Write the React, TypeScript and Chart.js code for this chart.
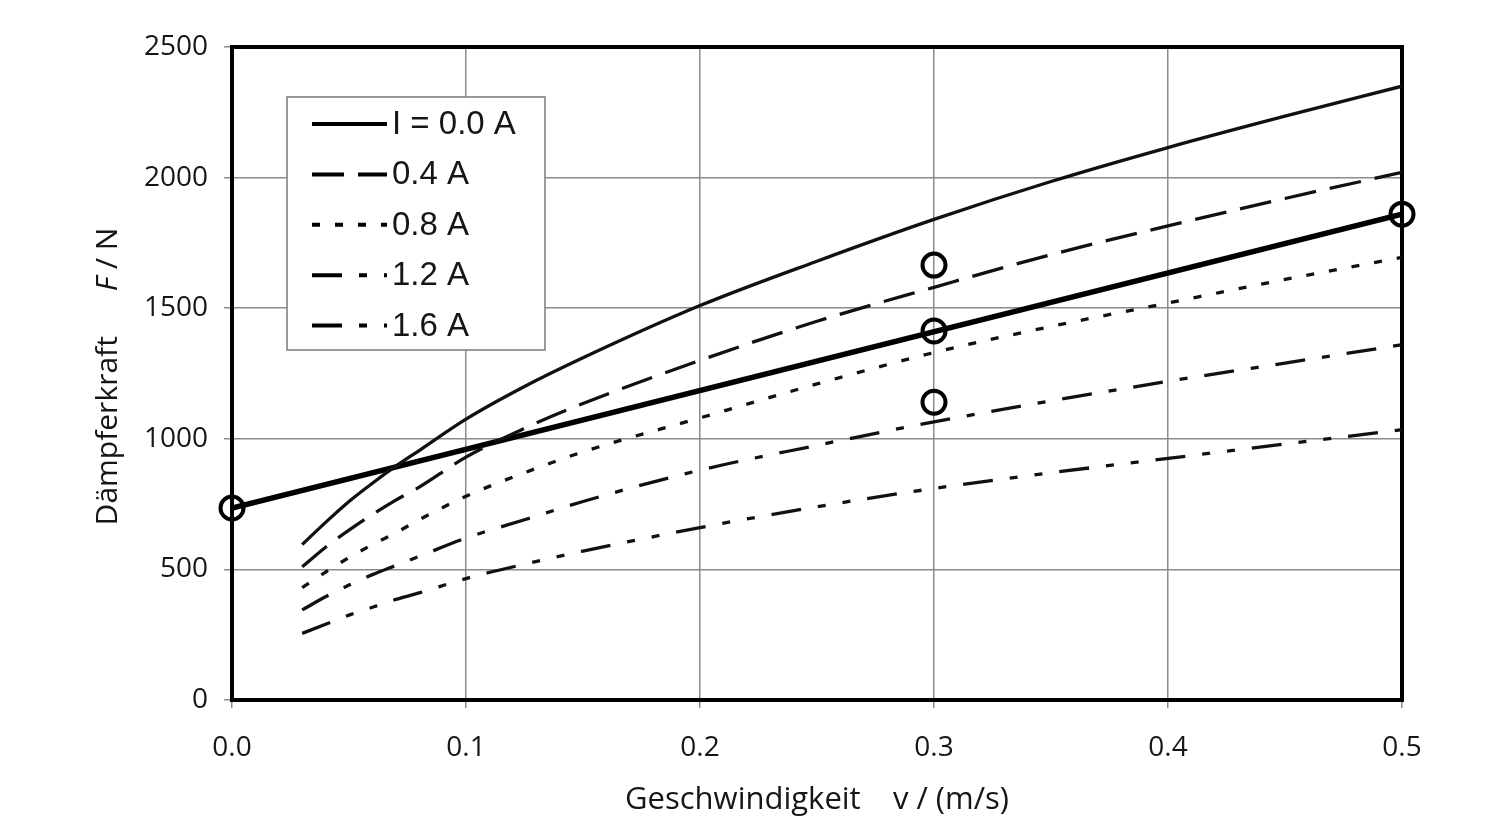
import React, { useEffect, useRef } from 'react';
import { Chart, registerables } from 'chart.js';

Chart.register(...registerables);

// ---- data ----
const velocity = [0.03, 0.04, 0.05, 0.06, 0.07, 0.08, 0.1, 0.125, 0.15, 0.2, 0.25, 0.3, 0.35, 0.4, 0.45, 0.5];
const force00 = [595, 680, 760, 830, 895, 955, 1075, 1200, 1310, 1510, 1680, 1840, 1985, 2115, 2235, 2350];
const force04 = [510, 585, 650, 710, 765, 815, 930, 1040, 1135, 1300, 1450, 1580, 1705, 1815, 1920, 2020];
const force08 = [430, 490, 545, 595, 640, 690, 780, 870, 950, 1080, 1210, 1330, 1430, 1520, 1610, 1695];
const force12 = [345, 395, 440, 480, 515, 550, 620, 690, 760, 880, 975, 1065, 1145, 1220, 1290, 1360];
const force16 = [255, 290, 325, 355, 385, 410, 465, 520, 570, 660, 740, 810, 870, 925, 980, 1035];
const seriesLabels = ['I = 0.0 A', '0.4 A', '0.8 A', '1.2 A', '1.6 A'];

const lineV = [0, 0.5];
const lineF = [735, 1860];

const markerV = [0, 0.3, 0.3, 0.3, 0.5];
const markerF = [735, 1665, 1413, 1140, 1860];

const xTickLabels = ['0.0', '0.1', '0.2', '0.3', '0.4', '0.5'];
const yTickLabels = ['0', '500', '1000', '1500', '2000', '2500'];

const xTitle = 'Geschwindigkeit    v / (m/s)';
const yTitleMain = 'Dämpferkraft';
const yTitleSymbol = 'F';
const yTitleUnit = ' / N';

const curves = [force00, force04, force08, force12, force16];
const dashes: number[][] = [[], [32, 14], [8, 15], [30, 17, 8, 17], [30, 17, 8, 17, 8, 17]];

const TEXT = '#161616';
const GRID = '#8c8c8c';
const FONT = "'Open Sans', sans-serif";

const framePlugin = {
  id: 'frame',
  beforeDatasetsDraw(chart: any) {
    const { ctx, chartArea: a } = chart;
    ctx.save();
    ctx.strokeStyle = '#000';
    ctx.lineWidth = 4;
    ctx.strokeRect(a.left, a.top, a.right - a.left, a.bottom - a.top);
    ctx.restore();
  },
};

const legendPlugin = {
  id: 'insideLegend',
  afterDatasetsDraw(chart: any) {
    const { ctx, chartArea: a } = chart;
    const bx = a.left + 55;
    const by = a.top + 50;
    const bw = 258;
    const bh = 253;
    ctx.save();
    ctx.fillStyle = '#fff';
    ctx.fillRect(bx, by, bw, bh);
    ctx.strokeStyle = '#7a7a7a';
    ctx.lineWidth = 1.5;
    ctx.strokeRect(bx, by, bw, bh);
    for (let i = 0; i < seriesLabels.length; i++) {
      const ds = chart.data.datasets[i];
      const y = by + 27 + i * 50.4;
      ctx.beginPath();
      ctx.setLineDash(ds.borderDash || []);
      ctx.lineDashOffset = 0;
      ctx.strokeStyle = '#000';
      ctx.lineWidth = 4;
      ctx.moveTo(bx + 25, y);
      ctx.lineTo(bx + 100, y);
      ctx.stroke();
      ctx.setLineDash([]);
      ctx.fillStyle = TEXT;
      ctx.font = "33px 'Liberation Sans', Arial, sans-serif";
      ctx.textAlign = 'left';
      ctx.textBaseline = 'middle';
      ctx.fillText(ds.label, bx + 105, y + 1);
    }
    ctx.restore();
  },
};

const yTitlePlugin = {
  id: 'yTitle',
  afterDraw(chart: any) {
    const { ctx, chartArea: a } = chart;
    ctx.save();
    const normal = `30px ${FONT}`;
    const italic = `italic 30px ${FONT}`;
    const gap = 45;
    ctx.font = normal;
    const w1 = ctx.measureText(yTitleMain).width;
    const w3 = ctx.measureText(yTitleUnit).width;
    ctx.font = italic;
    const w2 = ctx.measureText(yTitleSymbol).width;
    const total = w1 + gap + w2 + w3;
    ctx.translate(108, (a.top + a.bottom) / 2 + 3);
    ctx.rotate(-Math.PI / 2);
    ctx.fillStyle = TEXT;
    ctx.textBaseline = 'middle';
    ctx.textAlign = 'left';
    let x = -total / 2;
    ctx.font = normal;
    ctx.fillText(yTitleMain, x, 0);
    x += w1 + gap;
    ctx.font = italic;
    ctx.fillText(yTitleSymbol, x, 0);
    x += w2;
    ctx.font = normal;
    ctx.fillText(yTitleUnit, x, 0);
    ctx.restore();
  },
};

export default function App() {
  const ref = useRef<HTMLCanvasElement | null>(null);

  useEffect(() => {
    if (!ref.current) return;
    const datasets: any[] = curves.map((f, i) => ({
      label: seriesLabels[i],
      data: velocity.map((v, j) => ({ x: v, y: f[j] })),
      borderColor: '#111',
      borderWidth: 3.3,
      borderDash: dashes[i],
      pointRadius: 0,
      cubicInterpolationMode: 'monotone',
      fill: false,
    }));
    datasets.push({
      label: 'line',
      data: lineV.map((v, j) => ({ x: v, y: lineF[j] })),
      borderColor: '#000',
      borderWidth: 5.5,
      pointRadius: 0,
      fill: false,
    });
    datasets.push({
      label: 'markers',
      data: markerV.map((v, j) => ({ x: v, y: markerF[j] })),
      showLine: false,
      pointRadius: 11.5,
      pointBorderWidth: 4,
      pointBackgroundColor: 'rgba(0,0,0,0)',
      pointBorderColor: '#000',
      clip: false,
    });

    const chart = new Chart(ref.current, {
      type: 'line',
      data: { datasets },
      plugins: [framePlugin, legendPlugin, yTitlePlugin],
      options: {
        animation: false,
        responsive: false,
        devicePixelRatio: 1,
        layout: { padding: { top: 47, right: 103, left: 0, bottom: 0 } },
        plugins: { legend: { display: false }, tooltip: { enabled: false } },
        scales: {
          x: {
            type: 'linear',
            min: 0,
            max: 0.5,
            afterFit: (s: any) => { s.height = 138; },
            ticks: {
              stepSize: 0.1,
              padding: 23,
              color: TEXT,
              font: { family: FONT, size: 28 },
              maxRotation: 0,
              callback: (_v: any, i: number) => xTickLabels[i],
            },
            grid: { color: GRID, lineWidth: 1.5, tickLength: 8, tickColor: GRID },
            border: { display: false },
            title: {
              display: true,
              text: xTitle,
              color: TEXT,
              font: { family: FONT, size: 31 },
              padding: { top: 0, bottom: 19 },
            },
          },
          y: {
            type: 'linear',
            min: 0,
            max: 2500,
            afterFit: (s: any) => { s.width = 232; },
            ticks: {
              stepSize: 500,
              padding: 16,
              color: TEXT,
              font: { family: FONT, size: 28 },
              callback: (_v: any, i: number) => yTickLabels[i],
            },
            grid: { color: GRID, lineWidth: 1.5, tickLength: 8, tickColor: GRID },
            border: { display: false },
          },
        },
      },
    });
    return () => chart.destroy();
  }, []);

  return (
    <div style={{ position: 'fixed', left: 0, top: 0, width: 1505, height: 838, background: '#fff' }}>
      <canvas ref={ref} width={1505} height={838} />
    </div>
  );
}
